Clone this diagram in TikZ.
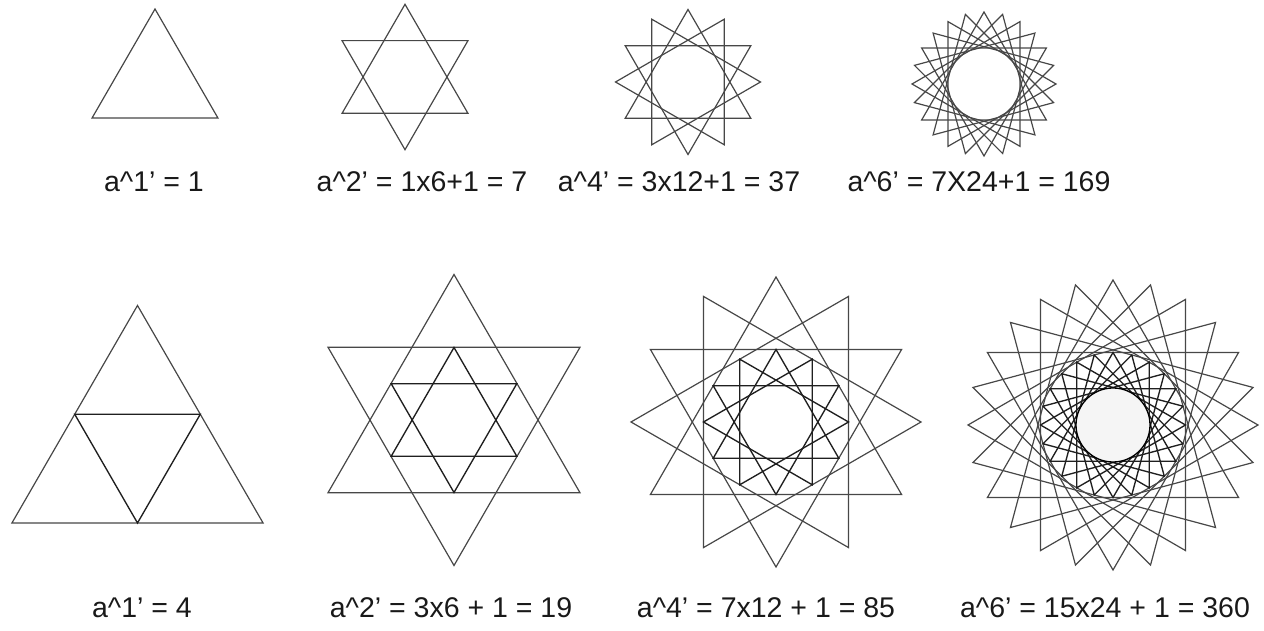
\documentclass[tikz,border=0pt]{standalone}
\usepackage{fontspec}
\setmainfont{Liberation Sans}
\usetikzlibrary{calc}
\newcommand\mystar[5]{%
  \pgfmathsetmacro\stp{120/#4}%
  \foreach \k in {1,...,#4}{%
    \draw[#5,shift={(#1,#2)},rotate={(\k-1)*\stp}] (90:#3) -- (210:#3) -- (330:#3) -- cycle;
  }}
\begin{document}
\begin{tikzpicture}[x=1pt,y=1pt,
  outerline/.style={draw=black!72,line width=1.2pt,line join=miter},
  innerline/.style={draw=black!88,line width=1.35pt,line join=miter},
  lbl/.style={text=black!90,font=\fontsize{28.5}{32}\selectfont,inner sep=0pt,anchor=center}]
\useasboundingbox (0,0) rectangle (1264,631);
% top row
\mystar{155}{549.3}{72.7}{1}{outerline}
\mystar{405}{554}{72.7}{2}{outerline}
\mystar{688}{549}{72.5}{4}{outerline}
\mystar{984}{547}{72}{8}{outerline}
% bottom row
\mystar{137.5}{180.5}{145}{1}{outerline}
\draw[innerline,shift={(137.5,180.5)}] (270:72.5) -- (30:72.5) -- (150:72.5) -- cycle;
\mystar{454}{211}{145.5}{2}{outerline}
\mystar{454}{211}{72.5}{2}{innerline}
\mystar{776}{209}{145}{4}{outerline}
\mystar{776}{209}{72.5}{4}{innerline}
\mystar{1113}{206}{145}{8}{outerline}
\mystar{1113}{206}{72.5}{8}{innerline}
\node[circle,draw=black,line width=1.3pt,fill=black!4,minimum size=74pt,inner sep=0pt] (c) at (1113,206) {};
% labels
\node[lbl] (t1) at (154,449) {a\textasciicircum1’ = 1};
\node[lbl] (t2) at (422,449) {a\textasciicircum2’ = 1x6+1 = 7};
\node[lbl] (t3) at (679,449) {a\textasciicircum4’ = 3x12+1 = 37};
\node[lbl] (t4) at (979,449) {a\textasciicircum6’ = 7X24+1 = 169};
\node[lbl] (b1) at (142,23) {a\textasciicircum1’ = 4};
\node[lbl] (b2) at (451,23) {a\textasciicircum2’ = 3x6 + 1 = 19};
\node[lbl] (b3) at (766,23) {a\textasciicircum4’ = 7x12 + 1 = 85};
\node[lbl] (b4) at (1105,23) {a\textasciicircum6’ = 15x24 + 1 = 360};
\end{tikzpicture}
\end{document}
